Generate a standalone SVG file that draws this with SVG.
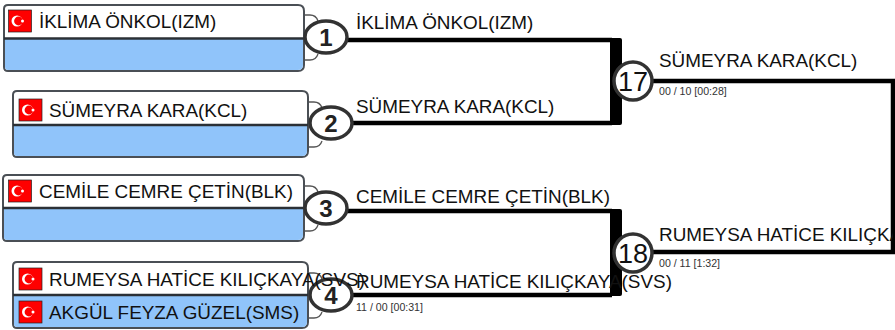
<svg xmlns="http://www.w3.org/2000/svg" width="895" height="330" viewBox="0 0 895 330">
<style>
text{font-family:"Liberation Sans",Arial,sans-serif;fill:#111}
.n{font-size:18.900px}
.s{font-size:10.600px;fill:#333}
.box{fill:#fff;stroke:#4a4f55;stroke-width:2}
.low{fill:#90c4fa}
.div{stroke:#2b3036;stroke-width:2.500;fill:none}
.lobe{fill:#fff;stroke:#555;stroke-width:1.300}
.c{fill:#fff;stroke:#333;stroke-width:3.500;filter:url(#soft)}
.num{font-size:24px;font-weight:bold;text-anchor:middle;fill:#222}
.num2{font-size:27px;text-anchor:middle;fill:#111}
.w{stroke:#000;stroke-width:4.500;fill:none}
.bar{fill:#000}
.f{fill:#f00;stroke:#222;stroke-width:.7}
.fw{fill:#fff}
.fr{fill:#f00}
</style>
<defs>
<filter id="soft" x="-10%" y="-10%" width="120%" height="120%"><feGaussianBlur stdDeviation="0.7"/></filter>
<g id="flag">
<rect class="f" width="23" height="22"/>
<circle class="fw" cx="8.500" cy="11" r="5.500"/>
<circle class="fr" cx="10" cy="11" r="4.400"/>
<circle class="fw" cx="14" cy="11" r="1.500"/>
</g>
</defs>
<g id="connectors">
<path class="w" d="M345 40H612M350 123H612M345 211H612M350 295H612M650 81H893V252H650"/>
<rect class="bar" x="610" y="38" width="12" height="87" rx="2"/>
<rect class="bar" x="610" y="209" width="12" height="87" rx="2"/>
</g>
<g id="seed1">
<path class="lobe" d="M304 15h6q6 0 8 6M304 60h6q6 0 8-6"/>
<path class="box" d="M8 5H298q6 0 6 6V65q0 6-6 6H8q-4 0-4-4V9q0-4 4-4Z"/>
<path class="low" d="M5 39H303V65q0 5-5 5H8q-3 0-3-3Z"/>
<path class="div" d="M4 38.500H304"/>
<use href="#flag" x="8.500" y="10"/>
<text class="n" x="39" y="28">İKLİMA ÖNKOL(IZM)</text>
</g>
<g id="seed2">
<path class="lobe" d="M308 102h6q6 0 8 6M308 147h6q6 0 8-6"/>
<path class="box" d="M17 91H302q6 0 6 6V151q0 6-6 6H17q-4 0-4-4V95q0-4 4-4Z"/>
<path class="low" d="M14 126H307V151q0 5-5 5H17q-3 0-3-3Z"/>
<path class="div" d="M13 125H308"/>
<use href="#flag" x="19" y="99"/>
<text class="n" x="49" y="117">SÜMEYRA KARA(KCL)</text>
</g>
<g id="seed3">
<path class="lobe" d="M304 186h6q6 0 8 6M304 231h6q6 0 8-6"/>
<path class="box" d="M7 175H298q6 0 6 6V235q0 6-6 6H7q-4 0-4-4V179q0-4 4-4Z"/>
<path class="low" d="M4 209H303V235q0 5-5 5H7q-3 0-3-3Z"/>
<path class="div" d="M3 208H304"/>
<use href="#flag" x="8.500" y="180"/>
<text class="n" x="39" y="198">CEMİLE CEMRE ÇETİN(BLK)</text>
</g>
<g id="seed4">
<path class="lobe" d="M308 273h6q6 0 8 6M308 318h6q6 0 8-6"/>
<path class="box" d="M17 262H302q6 0 6 6V322q0 6-6 6H17q-4 0-4-4V266q0-4 4-4Z"/>
<path class="low" d="M14 296H307V322q0 5-5 5H17q-3 0-3-3Z"/>
<path class="div" d="M13 295H308"/>
<use href="#flag" x="19" y="268"/>
<use href="#flag" x="19" y="301"/>
</g>
<g id="match1"><ellipse class="c" cx="326" cy="37" rx="21" ry="16"/><text class="num" x="326" y="46">1</text></g>
<g id="match2"><ellipse class="c" cx="331" cy="123" rx="21" ry="16"/><text class="num" x="331" y="132">2</text></g>
<g id="match3"><ellipse class="c" cx="326" cy="208" rx="21" ry="16"/><text class="num" x="326" y="217">3</text></g>
<g id="match4"><ellipse class="c" cx="331" cy="295" rx="21" ry="16"/><text class="num" x="331" y="304">4</text></g>
<g id="match17"><circle class="c" cx="633" cy="81" r="19"/><text class="num2" x="633" y="91">17</text></g>
<g id="match18"><circle class="c" cx="633" cy="253" r="19"/><text class="num2" x="633" y="263">18</text></g>
<g id="labels">
<text class="n" x="49" y="286">RUMEYSA HATİCE KILIÇKAYA(SVS)</text>
<text class="n" x="49" y="319">AKGÜL FEYZA GÜZEL(SMS)</text>
<text class="n" x="356" y="29">İKLİMA ÖNKOL(IZM)</text>
<text class="n" x="356" y="113">SÜMEYRA KARA(KCL)</text>
<text class="n" x="356" y="203">CEMİLE CEMRE ÇETİN(BLK)</text>
<text class="n" x="356" y="288">RUMEYSA HATİCE KILIÇKAYA(SVS)</text>
<text class="s" x="356" y="311">11 / 00 [00:31]</text>
<text class="n" x="659" y="67">SÜMEYRA KARA(KCL)</text>
<text class="s" x="659" y="95">00 / 10 [00:28]</text>
<text class="n" x="659" y="241">RUMEYSA HATİCE KILIÇKAYA(SVS)</text>
<text class="s" x="659" y="267">00 / 11 [1:32]</text>
</g>
<rect x="893" y="79" width="2" height="175" fill="#000"/>
</svg>
